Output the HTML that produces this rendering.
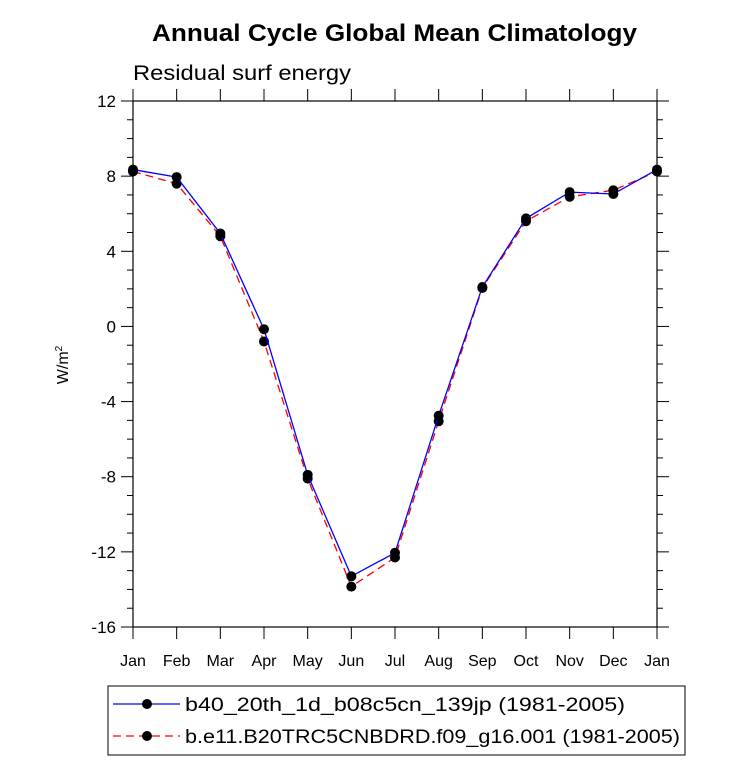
<!DOCTYPE html>
<html><head><meta charset="utf-8"><style>body{margin:0;background:#fff}svg{display:block}text{font-family:"Liberation Sans",sans-serif}</style></head>
<body>
<svg width="733" height="777">
<text x="152" y="41" font-size="24" font-weight="bold" textLength="485" lengthAdjust="spacingAndGlyphs">Annual Cycle Global Mean Climatology</text>
<text x="133" y="80" font-size="21" textLength="218" lengthAdjust="spacingAndGlyphs">Residual surf energy</text>
<text transform="translate(68,365) rotate(-90)" text-anchor="middle" font-size="16">W/m<tspan font-size="10" dy="-6">2</tspan></text>
<g id="axes"></g>
<g id="series"></g>
<g>
<rect x="108" y="686" width="577" height="69" fill="none" stroke="#000" stroke-width="1"/>
<line x1="113" y1="704" x2="180" y2="704" stroke="#00f" stroke-width="1.3"/>
<circle cx="147" cy="704" r="5" fill="#000"/>
<text x="185" y="711" font-size="19" textLength="440" lengthAdjust="spacingAndGlyphs">b40_20th_1d_b08c5cn_139jp (1981-2005)</text>
<line x1="113" y1="736" x2="180" y2="736" stroke="#f00" stroke-width="1.3" stroke-dasharray="8,5"/>
<circle cx="147" cy="736" r="5" fill="#000"/>
<text x="185" y="743" font-size="19" textLength="495" lengthAdjust="spacingAndGlyphs">b.e11.B20TRC5CNBDRD.f09_g16.001 (1981-2005)</text>
</g>
</svg>
<script>
const months=["Jan","Feb","Mar","Apr","May","Jun","Jul","Aug","Sep","Oct","Nov","Dec","Jan"];
const series1=[8.35,7.95,4.95,-0.15,-7.9,-13.3,-12.05,-4.75,2.1,5.75,7.15,7.05,8.35];
const series2=[8.25,7.6,4.8,-0.8,-8.1,-13.85,-12.3,-5.05,2.05,5.6,6.9,7.25,8.25];
const yTicks=[-16,-12,-8,-4,0,4,8,12];
const NS="http://www.w3.org/2000/svg";
const X0=133,X1=657,Y0=101,Y1=627,ymin=-16,ymax=12;
const xs=i=>X0+i*(X1-X0)/(months.length-1);
const ys=v=>Y1-(v-ymin)/(ymax-ymin)*(Y1-Y0);
function mk(tag,attrs,parent){const e=document.createElementNS(NS,tag);for(const k in attrs)e.setAttribute(k,attrs[k]);parent.appendChild(e);return e;}
const ax=document.getElementById('axes');
const fr=mk('rect',{x:X0,y:Y0,width:X1-X0,height:Y1-Y0,fill:'none',stroke:'#000','stroke-width':1.2},ax);


for(let v=ymin;v<=ymax;v++){
  const maj=yTicks.includes(v),L=maj?12:6,y=ys(v);
  mk('line',{x1:X0-L,y1:y,x2:X0,y2:y,stroke:'#000'},ax);
  mk('line',{x1:X1,y1:y,x2:X1+L,y2:y,stroke:'#000'},ax);
}
yTicks.forEach(v=>{
  const t=mk('text',{x:X0-17,y:ys(v)+6,'text-anchor':'end','font-size':17},ax);
  t.textContent=v;
  
  
});
months.forEach((m,i)=>{
  const x=xs(i);
  mk('line',{x1:x,y1:Y1,x2:x,y2:Y1+12,stroke:'#000'},ax);
  mk('line',{x1:x,y1:Y0-12,x2:x,y2:Y0,stroke:'#000'},ax);
  const t=mk('text',{x:x,y:Y1+39,'text-anchor':'middle','font-size':16},ax);
  t.textContent=m;
  
  
});
const sg=document.getElementById('series');
function draw(data,color,dash,name){
  const g=mk('g',{},sg);
  
  
  const pts=data.map((v,i)=>xs(i)+','+ys(v)).join(' ');
  const attrs={points:pts,fill:'none',stroke:color,'stroke-width':1.3};
  if(dash)attrs['stroke-dasharray']=dash;
  mk('polyline',attrs,g);
  data.forEach((v,i)=>{
    const c=mk('circle',{cx:xs(i),cy:ys(v),r:5,fill:'#000'},g);
    
    
  });
}
draw(series2,'#f00','8,5','series-b-e11');
draw(series1,'#00f',null,'series-b40');
</script>
</body></html>
